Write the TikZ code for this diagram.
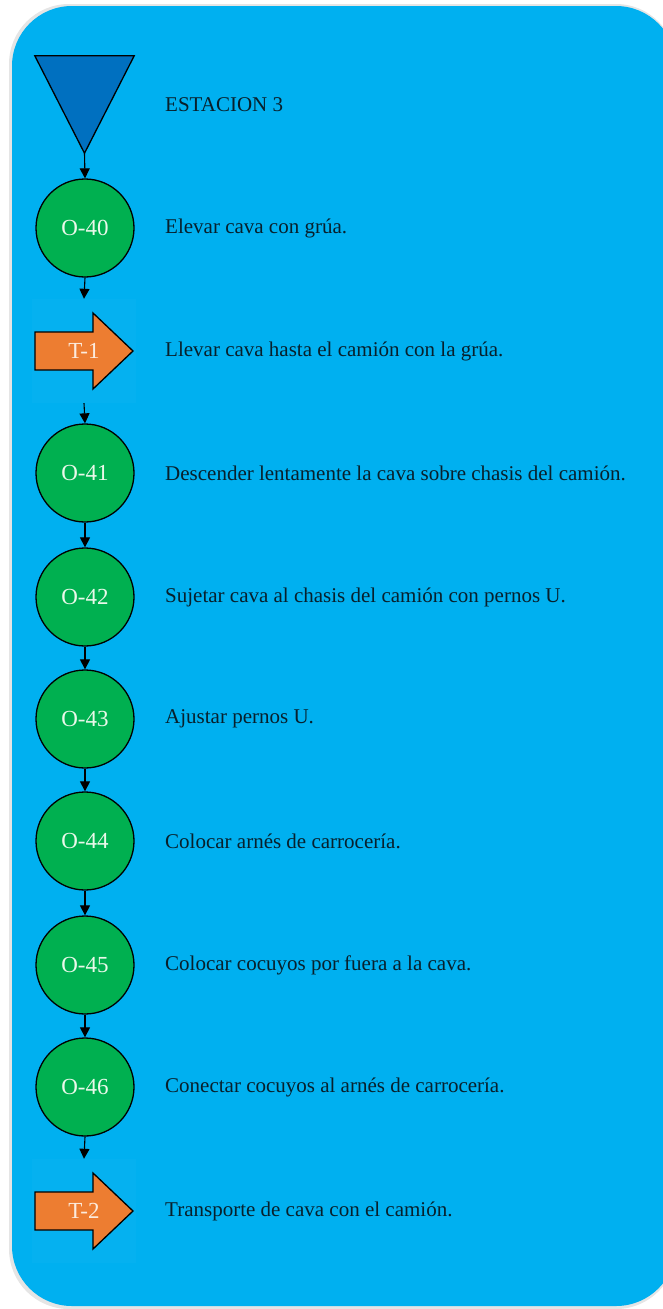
\documentclass[tikz,border=0pt]{standalone}
\usepackage{fontspec}
\setmainfont{Liberation Serif}
\usetikzlibrary{arrows.meta}
\definecolor{bgblue}{HTML}{00B0F0}
\definecolor{triblue}{HTML}{0070C0}
\definecolor{opgreen}{HTML}{00B050}
\definecolor{torange}{HTML}{ED7D31}
\definecolor{txtdark}{HTML}{08202C}
\definecolor{oplabel}{HTML}{EAF8EA}
\definecolor{tlabel}{HTML}{FCEBDD}
\newcommand{\labfont}{\fontsize{23pt}{25pt}\selectfont}
\newcommand{\descfont}{\fontsize{21pt}{23pt}\selectfont}
\begin{document}
\begin{tikzpicture}[x=1pt,y=-1pt,
  opcircle/.style={circle, draw=black, line width=1.3pt, fill=opgreen, minimum size=98pt, inner sep=0pt, text=oplabel, font=\labfont},
  trinode/.style={rectangle, draw=none, minimum width=99pt, minimum height=97pt, inner sep=0pt},
  tshape/.style={rectangle, draw=none, minimum width=104pt, minimum height=104pt, inner sep=0pt, text=tlabel, font=\labfont,
    path picture={
      \fill[white, opacity=0.02] (path picture bounding box.south west) rectangle (path picture bounding box.north east);
      \draw[draw=black, line width=1.3pt, fill=torange, line join=miter]
        ([shift={(-49,-19)}]path picture bounding box.center) -- ++(58,0) -- ++(0,-19) -- ++(40,38) -- ++(-40,38) -- ++(0,-19) -- ++(-58,0) -- cycle;
    }},
  desc/.style={anchor=west, text=txtdark, font=\descfont, inner sep=0pt},
  flow/.style={draw=black, line width=1.1pt, -{Triangle[length=10pt,width=10pt]}}
]
\useasboundingbox (0,0) rectangle (663,1309);
% background panel with soft shadow
\fill[black!10, rounded corners=60pt] (9,4) rectangle (676,1309);
\fill[bgblue, rounded corners=60pt] (12,6) rectangle (676,1306);

% triangle (start)
\node[trinode] (tri) at (84.5,104.5) {};
\draw[draw=black, line width=1.3pt, fill=triblue, line join=miter] (tri.north west) -- (tri.north east) -- (tri.south) -- cycle;

% shapes
\node[opcircle] (o40) at (85,228) {O-40};
\node[tshape] (t1) at (84,351) {T-1};
\node[opcircle] (o41) at (85,473) {O-41};
\node[opcircle] (o42) at (85,597) {O-42};
\node[opcircle] (o43) at (85,719) {O-43};
\node[opcircle] (o44) at (85,841) {O-44};
\node[opcircle] (o45) at (85,965) {O-45};
\node[opcircle] (o46) at (85,1087) {O-46};
\node[tshape] (t2) at (84,1211) {T-2};

% descriptions
\node[desc] (d0) at (165,105) {ESTACION 3};
\node[desc] (d1) at (165,228) {Elevar cava con grúa.};
\node[desc] (d2) at (165,351) {Llevar cava hasta el camión con la grúa.};
\node[desc] (d3) at (165,473) {Descender lentamente la cava sobre chasis del camión.};
\node[desc] (d4) at (165,597) {Sujetar cava al chasis del camión con pernos U.};
\node[desc] (d5) at (165,719) {Ajustar pernos U.};
\node[desc] (d6) at (165,841) {Colocar arnés de carrocería.};
\node[desc] (d7) at (165,965) {Colocar cocuyos por fuera a la cava.};
\node[desc] (d8) at (165,1087) {Conectar cocuyos al arnés de carrocería.};
\node[desc] (d9) at (165,1211) {Transporte de cava con el camión.};

% connectors
\draw[flow] (tri.south) -- (o40.north);
\draw[flow] (o40.south) -- (t1.north);
\draw[flow] (t1.south) -- (o41.north);
\draw[flow] (o41.south) -- (o42.north);
\draw[flow] (o42.south) -- (o43.north);
\draw[flow] (o43.south) -- (o44.north);
\draw[flow] (o44.south) -- (o45.north);
\draw[flow] (o45.south) -- (o46.north);
\draw[flow] (o46.south) -- (t2.north);
\end{tikzpicture}
\end{document}
